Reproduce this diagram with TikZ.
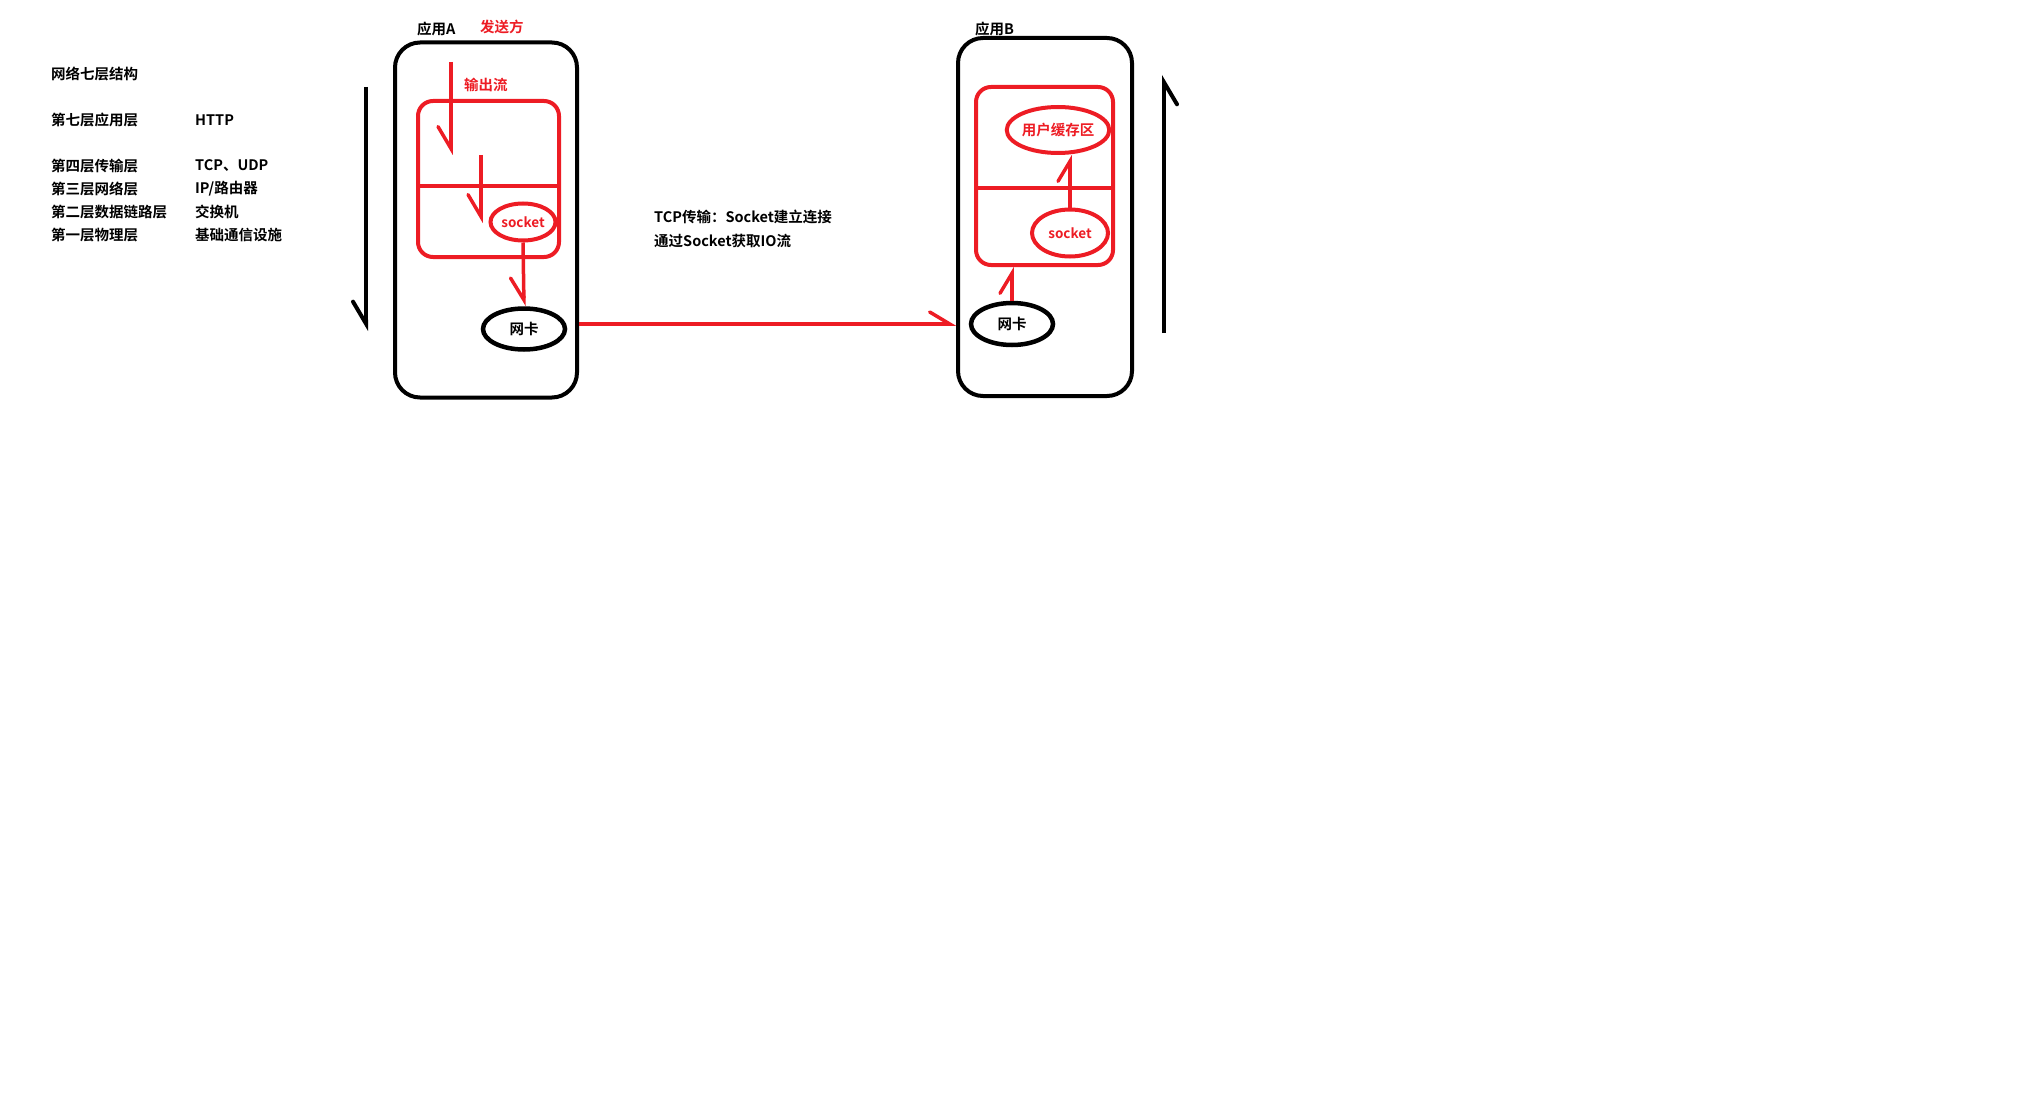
\documentclass[tikz,border=0pt]{standalone}
\usepackage{fontspec}
\setmainfont{Noto Sans CJK SC}[BoldFont=* Bold]
\usetikzlibrary{shapes.geometric,arrows.meta,calc}
\definecolor{paintred}{RGB}{237,28,36}

\tikzset{
  txt/.style={anchor=west, inner sep=0pt, font=\bfseries\fontsize{14.5}{16}\selectfont},
  redtxt/.style={txt, text=paintred},
  appbox/.style={draw, line width=4pt, rounded corners=25pt, inner sep=0pt},
  stackbox/.style={draw=paintred, line width=4pt, rounded corners=15pt, inner sep=0pt},
  redell/.style={ellipse, draw=paintred, line width=4pt, inner sep=0pt, text=paintred,
    font=\bfseries\fontsize{13.5}{15}\selectfont},
  nic/.style={ellipse, draw, line width=4.5pt, inner sep=0pt,
    font=\bfseries\fontsize{14.5}{16}\selectfont},
  barbR/.style={-{Straight Barb[harpoon,swap,length=22pt,width=26pt,line cap=round]}},
  barbL/.style={-{Straight Barb[harpoon,length=20pt,width=24pt,line cap=round]}},
  redarrow/.style={draw=paintred, line width=3.5pt},
  blackarrow/.style={barbR, line width=4pt}
}

\begin{document}
\begin{tikzpicture}[x=1pt,y=-1pt]
  \useasboundingbox (0,0) rectangle (2036,1118);

  % legend
  \node[txt] (title) at (51,74) {网络七层结构};
  \node[txt] (l7) at (51,120) {第七层应用层};
  \node[txt] (l4) at (51,166) {第四层传输层};
  \node[txt] (l3) at (51,189) {第三层网络层};
  \node[txt] (l2) at (51,212) {第二层数据链路层};
  \node[txt] (l1) at (51,235) {第一层物理层};
  \node[txt] (p7) at (195,120) {HTTP};
  \node[txt] (p4) at (195,166) {TCP、UDP};
  \node[txt] (p3) at (195,189) {IP/路由器};
  \node[txt] (p2) at (195,212) {交换机};
  \node[txt] (p1) at (195,235) {基础通信设施};

  % sender
  \node[appbox, minimum width=182pt, minimum height=355pt] (appA) at (486,220) {};
  \node[txt] (nameA) at (417,29) {应用A};
  \node[redtxt] (send) at (480,27) {发送方};
  \node[stackbox, minimum width=141pt, minimum height=156pt] (stackA) at (488.5,179) {};
  \draw[paintred, line width=4pt] ($(stackA.west)+(0,7)$) -- ($(stackA.east)+(0,7)$);
  \node[redtxt] (out) at (464,85) {输出流};
  \node[redell, minimum width=65pt, minimum height=37pt] (sockA) at (523,222) {socket};
  \node[nic, minimum width=82pt, minimum height=41pt] (nicA) at (524,329) {网卡};
  \coordinate (outTop) at (451,62);
  \coordinate (outBot) at (451,155);
  \coordinate (inTop) at (481,155);
  \coordinate (inBot) at (481,223);
  \draw[redarrow, barbR] (outTop) -- (outBot);
  \draw[redarrow, barbR] (inTop) -- (inBot);
  \draw[redarrow, barbR] (sockA.south) -- (nicA.north);

  % receiver
  \node[appbox, minimum width=174pt, minimum height=358pt] (appB) at (1045,217) {};
  \node[txt] (nameB) at (975,29) {应用B};
  \node[stackbox, minimum width=137pt, minimum height=178pt] (stackB) at (1044.5,176) {};
  \draw[paintred, line width=4pt] ($(stackB.west)+(0,12)$) -- ($(stackB.east)+(0,12)$);
  \node[redell, minimum width=98pt, minimum height=46pt,
    font=\bfseries\fontsize{14.5}{16}\selectfont] (buf) at (1058,130) {用户缓存区};
  \node[redell, minimum width=76pt, minimum height=47pt] (sockB) at (1070,233) {socket};
  \node[nic, minimum width=82pt, minimum height=42pt] (nicB) at (1012,324) {网卡};
  \draw[redarrow, barbL] (nicB.north) -- (nicB.north |- stackB.south);
  \draw[redarrow, barbL] (sockB.north) -- (sockB.north |- buf.south);

  % link
  \draw[redarrow, barbL] (appA.east |- nicB) -- (appB.west |- nicB);
  \node[txt] (tcp) at (654,217) {TCP传输：Socket建立连接};
  \node[txt] (io) at (654,241) {通过Socket获取IO流};

  % direction
  \coordinate (downTop) at (366,87);
  \coordinate (downBot) at (366,331);
  \coordinate (upBot) at (1164,333);
  \coordinate (upTop) at (1164,75);
  \draw[blackarrow] (downTop) -- (downBot);
  \draw[blackarrow] (upBot) -- (upTop);
\end{tikzpicture}
\end{document}
